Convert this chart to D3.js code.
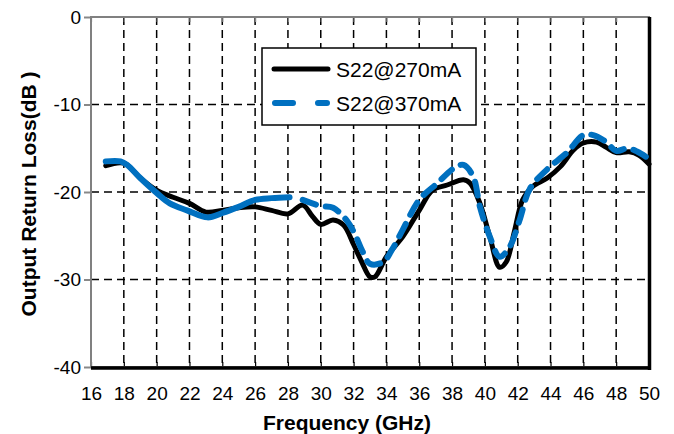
<html>
<head>
<meta charset="utf-8">
<script src="https://d3js.org/d3.v7.min.js"></script>
<style>
  body { margin:0; background:#fff; }
  text { font-family: Arial, "Liberation Sans", sans-serif; }
</style>
</head>
<body>
<div id="chart"></div>
<script>

// S22 @ 270mA
var freq270 = [16.9, 18, 19, 20, 21, 22, 23, 24, 25, 26, 27, 28, 28.9, 29.5, 30, 30.75, 31.4, 32, 32.5, 33, 33.3, 34, 35, 36, 36.8, 37.7, 38.7, 39.1, 39.7, 40.3, 40.9, 41.3, 41.8, 42.3, 42.9, 43.8, 44.6, 45.4, 46, 46.8, 47.4, 48, 48.8, 49.4, 50];
var s270 = [-17.0, -16.7, -18.4, -19.8, -20.6, -21.3, -22.3, -22.1, -21.8, -21.7, -22.1, -22.5, -21.5, -22.8, -23.7, -23.2, -23.8, -26.0, -28.0, -29.7, -29.7, -27.4, -25.1, -22.1, -19.8, -19.2, -18.6, -19.0, -21.3, -25.1, -28.6, -28.0, -24.5, -20.9, -19.4, -18.4, -17.1, -15.2, -14.4, -14.3, -14.9, -15.5, -15.4, -15.8, -16.8];

// S22 @ 370mA  (null = break in the trace)
var freq370 = [16.9, 17.8, 18.2, 19, 20, 20.8, 21.85, 23.1, 24, 25, 26, 27, 28.1, 28.5, 28.9, 30, 30.75, 31.6, 32.1, 32.5, 33, 33.8, 34.4, 35, 36, 37.1, 38.1, 38.7, 39.3, 39.7, 40.3, 40.9, 41.5, 42.1, 42.75, 43.8, 45, 46, 46.6, 47.4, 48, 48.7, 49.3, 50];
var s370 = [-16.5, -16.5, -16.9, -18.4, -20.1, -21.3, -22.1, -22.9, -22.4, -21.7, -20.9, -20.7, -20.6, null, -20.9, -21.6, -21.8, -23.3, -24.9, -26.6, -28.2, -28.0, -26.4, -24.3, -20.9, -19.0, -17.3, -16.9, -18.3, -21.7, -25.1, -27.4, -26.3, -23.3, -19.6, -17.4, -15.5, -13.5, -13.5, -14.3, -15.3, -15.0, -15.4, -16.2];

var xTicks = d3.range(16, 51, 2);
var yTicks = [0, -10, -20, -30, -40];
var seriesNames = ["S22@270mA", "S22@370mA"];

var W = 674, H = 434;
var pL = 91, pR = 649, pT = 17, pB = 367;
var fontStack = "Arial, 'Liberation Sans', sans-serif";

var svg = d3.select("#chart").append("svg")
    .attr("width", W).attr("height", H);

var x = d3.scaleLinear().domain([16, 50]).range([pL, pR]);
var y = d3.scaleLinear().domain([-40, 0]).range([pB, pT]);

// grid
svg.append("g").selectAll("line")
   .data(xTicks.filter(function(d){ return d > 16 && d < 50; }))
   .enter().append("line")
   .attr("x1", function(d){ return x(d); }).attr("x2", function(d){ return x(d); })
   .attr("y1", pT).attr("y2", pB)
   .attr("stroke", "#000").attr("stroke-width", 1.5)
   .attr("stroke-dasharray", "8,5");

svg.append("g").selectAll("line")
   .data(yTicks.filter(function(d){ return d > -40 && d < 0; }))
   .enter().append("line")
   .attr("x1", pL).attr("x2", pR)
   .attr("y1", function(d){ return y(d); }).attr("y2", function(d){ return y(d); })
   .attr("stroke", "#000").attr("stroke-width", 1.5)
   .attr("stroke-dasharray", "8,5");

// axes
var xAxisB = d3.axisBottom(x).tickValues(xTicks).tickSizeInner(-5).tickSizeOuter(0).tickPadding(20);
var gxb = svg.append("g").attr("transform", "translate(0," + pB + ")").call(xAxisB);
gxb.select(".domain").remove();
gxb.selectAll("line").attr("stroke", "#000").attr("stroke-width", 1.2);
gxb.selectAll("text").attr("font-size", 19).attr("fill", "#000").attr("font-family", fontStack);

var xAxisT = d3.axisTop(x).tickValues(xTicks).tickSizeInner(-5).tickSizeOuter(0).tickFormat("");
var gxt = svg.append("g").attr("transform", "translate(0," + pT + ")").call(xAxisT);
gxt.select(".domain").remove();
gxt.selectAll("line").attr("stroke", "#888").attr("stroke-width", 1.2);

var yAxis = d3.axisLeft(y).tickValues(yTicks).tickSizeInner(7).tickSizeOuter(0).tickPadding(3)
   .tickFormat(function(d){ return String(d); });
var gy = svg.append("g").attr("transform", "translate(" + pL + ",0)").call(yAxis);
gy.select(".domain").remove();
gy.selectAll("line").attr("stroke", "#888").attr("stroke-width", 2);
gy.selectAll("text").attr("font-size", 19).attr("fill", "#000").attr("font-family", fontStack);

// frame
svg.append("rect")
   .attr("x", pL).attr("y", pT)
   .attr("width", pR - pL).attr("height", pB - pT)
   .attr("fill", "none").attr("stroke", "#808080").attr("stroke-width", 2);
svg.append("line").attr("x1", pR + 0.5).attr("x2", pR + 0.5)
   .attr("y1", pT).attr("y2", pB + 3)
   .attr("stroke", "#000").attr("stroke-width", 3.5);
svg.append("line").attr("x1", pL).attr("x2", pR + 2)
   .attr("y1", pB + 1).attr("y2", pB + 1)
   .attr("stroke", "#000").attr("stroke-width", 3.5);

// curves
var line = d3.line()
   .defined(function(d){ return d[1] != null; })
   .x(function(d){ return x(d[0]); })
   .y(function(d){ return y(d[1]); })
   .curve(d3.curveCatmullRom.alpha(0.5));

var d270 = freq270.map(function(f, i){ return [f, s270[i]]; });
var d370 = freq370.map(function(f, i){ return [f, s370[i]]; });
var brk = s370.indexOf(null);

svg.append("path").datum(d270)
   .attr("d", line).attr("fill", "none")
   .attr("stroke", "#000").attr("stroke-width", 5)
   .attr("stroke-linecap", "round").attr("stroke-linejoin", "round");

svg.append("path").datum(d370.slice(0, brk))
   .attr("d", line).attr("fill", "none")
   .attr("stroke", "#0070c0").attr("stroke-width", 6)
   .attr("stroke-linecap", "round").attr("stroke-linejoin", "round");

svg.append("path").datum(d370.slice(brk + 1))
   .attr("d", line).attr("fill", "none")
   .attr("stroke", "#0070c0").attr("stroke-width", 6)
   .attr("stroke-dasharray", "14,10")
   .attr("stroke-linecap", "round").attr("stroke-linejoin", "round");

// legend
var lg = svg.append("g");
lg.append("rect").attr("x", 262).attr("y", 48).attr("width", 214).attr("height", 77)
  .attr("fill", "#fff").attr("stroke", "#000").attr("stroke-width", 1.5);
lg.append("line").attr("x1", 274).attr("x2", 328).attr("y1", 69).attr("y2", 69)
  .attr("stroke", "#000").attr("stroke-width", 5).attr("stroke-linecap", "round");
lg.append("line").attr("x1", 275).attr("x2", 327).attr("y1", 103).attr("y2", 103)
  .attr("stroke", "#0070c0").attr("stroke-width", 6).attr("stroke-linecap", "round")
  .attr("stroke-dasharray", "18,25");
lg.selectAll("text.leg").data(seriesNames).enter().append("text")
  .attr("class", "leg")
  .attr("x", 336).attr("y", function(d, i){ return 77 + i * 34; })
  .attr("font-size", 21).attr("fill", "#000")
  .text(function(d){ return d; });

// axis titles
svg.append("text").attr("x", 347).attr("y", 430)
   .attr("text-anchor", "middle").attr("font-size", 21).attr("font-weight", "bold")
   .text("Frequency (GHz)");
svg.append("text")
   .attr("transform", "translate(36,194) rotate(-90)")
   .attr("text-anchor", "middle").attr("font-size", 21).attr("font-weight", "bold")
   .text("Output Return Loss(dB )");

</script>
</body>
</html>
